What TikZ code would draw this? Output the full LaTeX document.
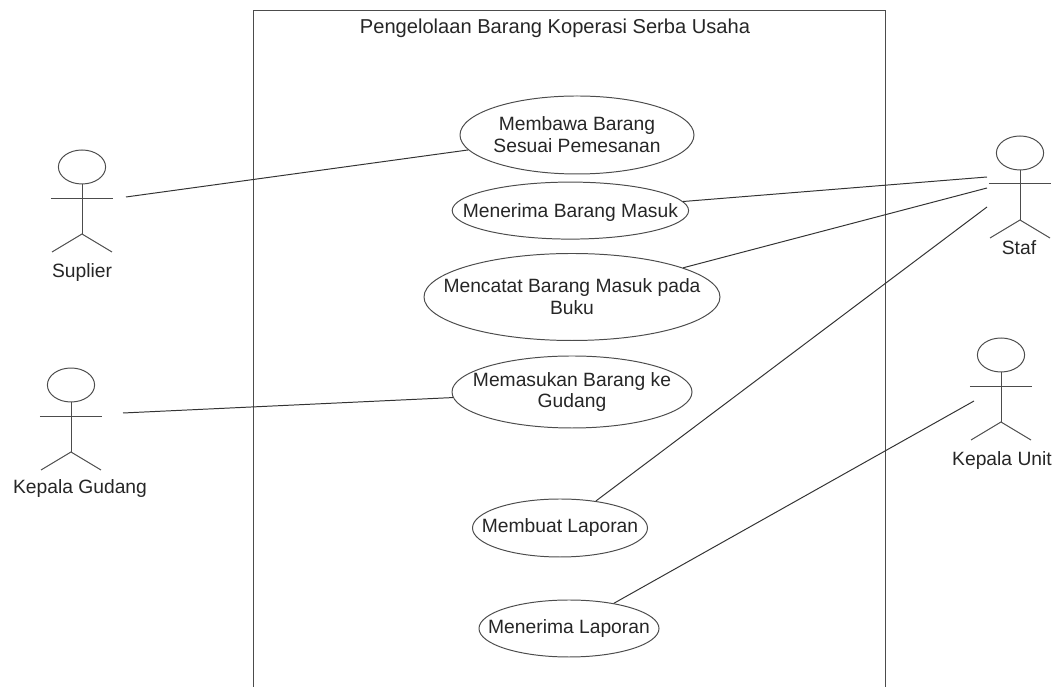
\documentclass[tikz,border=0pt]{standalone}
\usepackage{fontspec}
\setmainfont{Liberation Sans}
\usetikzlibrary{shapes.geometric}
\definecolor{linegray}{gray}{0.3}
\tikzset{
    usecase/.style={draw=linegray,line width=0.7pt,ellipse,inner sep=-0.6cm,align=center,text=black!85},
    actorlabel/.style={text=black!85},
    actorline/.style={draw=linegray,line width=0.7pt},
    assoc/.style={draw=black!80,line width=0.7pt}
}
\begin{document}
\begin{tikzpicture}[font=\fontsize{13.7}{15.6}\selectfont]
                    \useasboundingbox (0,0) rectangle (26.4,17.175);

                    \draw [actorline] (6.325,0) |- (22.125,16.9) -- (22.125,0);
                    \node [actorlabel,font=\fontsize{14.3}{15.6}\selectfont] (title) at (13.875,16.475) {Pengelolaan Barang Koperasi Serba Usaha};

                    \node [usecase,minimum width=5.85cm,minimum height=1.95cm] (membawa) at (14.425,13.8) {Membawa Barang\\Sesuai Pemesanan};
                    \node [usecase,text depth=0pt,minimum width=5.875cm,minimum height=1.425cm] (menerima) at (14.26,11.91) {Menerima Barang Masuk};
                    \node [usecase,minimum width=7.4cm,minimum height=2.175cm] (mencatat) at (14.3,9.75) {Mencatat Barang Masuk pada\\Buku};
                    \node [usecase,minimum width=6cm,minimum height=1.8cm] (memasukan) at (14.3,7.375) {Memasukan Barang ke\\Gudang};
                    \node [usecase,minimum width=4.375cm,minimum height=1.45cm] (membuat) at (14,3.975) {Membuat Laporan};
                    \node [usecase,minimum width=4.5cm,minimum height=1.425cm] (laporan) at (14.225,1.4625) {Menerima Laporan};

                    \foreach \actor/\x/\y in {suplier/2.05/13,gudang/1.775/7.55,staf/25.5/13.35,unit/25.025/8.3} {
                        \node [draw=linegray,line width=0.7pt,ellipse,inner sep=0pt,minimum width=1.18cm,minimum height=0.85cm] (\actor) at (\x,\y) {};
                        \draw [actorline] (\actor.south) -- (\x,\y-1.675);
                        \draw [actorline] (\x-0.78,\y-0.775) -- (\x+0.78,\y-0.775);
                        \draw [actorline] (\x-0.75,\y-2.125) -- (\x,\y-1.675) -- (\x+0.75,\y-2.125);
                    }

                    \node [actorlabel] (suplierlabel) at (2.05,10.35) {Suplier};
                    \node [actorlabel] (gudanglabel) at (2,4.95) {Kepala Gudang};
                    \node [actorlabel] (staflabel) at (25.475,10.975) {Staf};
                    \node [actorlabel] (unitlabel) at (25.05,5.65) {Kepala Unit};

                    \coordinate (suplierend) at (3.15,12.25);
                    \coordinate (gudangend) at (3.075,6.85);
                    \coordinate (stafend1) at (24.675,12.75);
                    \coordinate (stafend2) at (24.675,12.475);
                    \coordinate (stafend3) at (24.675,12);
                    \coordinate (unitend) at (24.35,7.15);

                    \draw [assoc] (suplierend) -- (membawa);
                    \draw [assoc] (gudangend) -- (memasukan);
                    \draw [assoc] (stafend1) -- (menerima);
                    \draw [assoc] (stafend2) -- (mencatat);
                    \draw [assoc] (stafend3) -- (membuat);
                    \draw [assoc] (unitend) -- (laporan);
                \end{tikzpicture}
\end{document}
